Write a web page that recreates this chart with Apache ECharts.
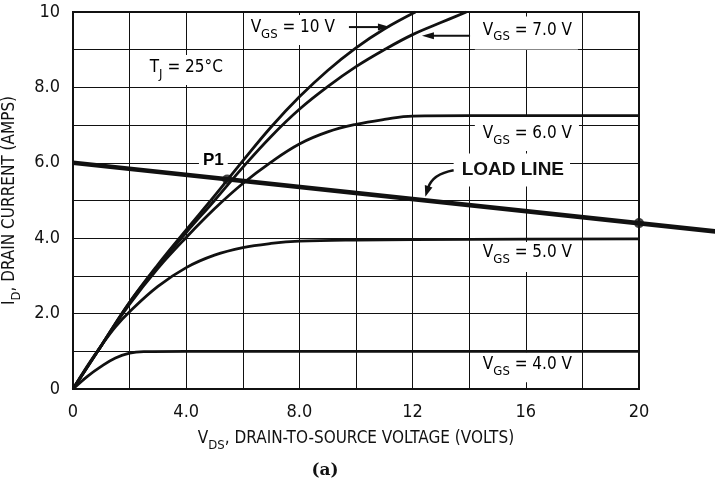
<!DOCTYPE html>
<html>
<head>
<meta charset="utf-8">
<script src="https://cdn.jsdelivr.net/npm/echarts@6/dist/echarts.min.js"></script>
<style>
  html, body { margin: 0; padding: 0; background: #fff; }
  #chart { width: 715px; height: 489px; }
</style>
</head>
<body>
<div id="chart"></div>
<script>
// Output characteristics: drain current (A) against drain-source voltage (V),
// one curve per gate-source voltage.
const vgs10V = [0, 1, 2, 3, 4, 5, 6, 7, 8, 9, 10, 11, 12.1];
const vgs10I = [0, 1.15, 2.3, 3.3, 4.22, 5.12, 6.05, 6.95, 7.75, 8.45, 9.05, 9.55, 10.0];
const vgs7V = [0, 1, 2, 3, 4, 5, 6, 7, 8, 9, 10, 11, 12, 13, 13.9];
const vgs7I = [0, 1.15, 2.3, 3.25, 4.15, 5.0, 5.88, 6.7, 7.42, 8.02, 8.55, 9.0, 9.4, 9.72, 10.0];
const vgs6V = [0, 1, 2, 3, 4, 5, 6, 7, 8, 9, 10, 11, 12, 14, 20];
const vgs6I = [0, 1.15, 2.25, 3.2, 4.02, 4.78, 5.45, 6.02, 6.5, 6.82, 7.02, 7.15, 7.24, 7.25, 7.25];
const vgs5V = [0, 0.5, 1, 1.5, 2, 3, 4, 5, 6, 7, 8, 10, 14, 20];
const vgs5I = [0, 0.6, 1.15, 1.65, 2.05, 2.72, 3.22, 3.55, 3.75, 3.86, 3.92, 3.95, 3.97, 3.98];
const vgs4V = [0, 0.5, 1, 1.5, 2, 2.5, 4, 20];
const vgs4I = [0, 0.33, 0.6, 0.82, 0.95, 0.99, 1.0, 1.0];

// Load line and the two marked operating points on it
const loadV = [0, 22.7];
const loadI = [6.0, 4.18];
const opV = [5.45, 20];
const opI = [5.56, 4.4];

// Labelled ticks
const xTickValues = [0, 4, 8, 12, 16, 20];
const xTickLabels = ['0', '4.0', '8.0', '12', '16', '20'];
const yTickValues = [0, 2, 4, 6, 8, 10];
const yTickLabels = ['0', '2.0', '4.0', '6.0', '8.0', '10'];

const FONT = "'Liberation Sans Narrow', 'DejaVu Sans Condensed', 'Liberation Sans', sans-serif";
const INK = '#111';

const zip = (xs, ys) => xs.map((x, i) => [x, ys[i]]);
const tickLabel = (vals, labels) => v => {
  const k = vals.findIndex(t => Math.abs(t - v) < 1e-9);
  return k >= 0 ? labels[k] : '';
};

const subRich = {
  m: { fontFamily: FONT, fontSize: 17, color: INK, lineHeight: 22, verticalAlign: 'top' },
  s: { fontFamily: FONT, fontSize: 13, color: INK, lineHeight: 13, verticalAlign: 'bottom' }
};

const curve = (name, xs, ys) => ({
  name, type: 'line', data: zip(xs, ys), symbol: 'none',
  smooth: 0.4, z: 3,
  lineStyle: { color: INK, width: 2.8 }
});

const chart = echarts.init(document.getElementById('chart'), null, { renderer: 'canvas' });

// Plot box spans 0–20 V; the load line runs on past the box to the page edge,
// so it sits on a second, hidden grid sharing the same scale.
const plot = { left: 73, top: 12, right: 76, bottom: 100 };
const chartW = 715;
const plotW = chartW - plot.left - plot.right;
const wideMax = 20 * (chartW - plot.left) / plotW;

const option = {
  backgroundColor: '#fff',
  animation: false,
  grid: [
    Object.assign({ show: true, borderColor: INK, borderWidth: 2, backgroundColor: 'transparent', containLabel: false, outerBoundsMode: 'none' }, plot),
    { left: plot.left, top: plot.top, right: 0, bottom: plot.bottom, show: false, containLabel: false, outerBoundsMode: 'none' }
  ],
  xAxis: [{
    type: 'value', min: 0, max: 20, interval: 2,
    axisLine: { show: false }, axisTick: { show: false },
    splitLine: { show: true, lineStyle: { color: INK, width: 1 } },
    axisLabel: { formatter: tickLabel(xTickValues, xTickLabels), fontFamily: FONT, fontSize: 18, color: INK, margin: 14 },
    name: '{m|V}{s|DS}{m|, DRAIN-TO-SOURCE VOLTAGE (VOLTS)}',
    nameLocation: 'middle', nameGap: 41,
    nameTextStyle: { rich: subRich }
  }, {
    type: 'value', gridIndex: 1, min: 0, max: wideMax, show: false
  }],
  yAxis: [{
    type: 'value', min: 0, max: 10, interval: 1,
    axisLine: { show: false }, axisTick: { show: false },
    splitLine: { show: true, lineStyle: { color: INK, width: 1 } },
    axisLabel: { formatter: tickLabel(yTickValues, yTickLabels), fontFamily: FONT, fontSize: 18, color: INK, margin: 13 },
    name: '{m|I}{s|D}{m|, DRAIN CURRENT (AMPS)}',
    nameLocation: 'middle', nameGap: 42,
    nameTextStyle: { rich: subRich }
  }, {
    type: 'value', gridIndex: 1, min: 0, max: 10, show: false
  }],
  series: [
    curve('VGS = 10 V', vgs10V, vgs10I),
    curve('VGS = 7.0 V', vgs7V, vgs7I),
    curve('VGS = 6.0 V', vgs6V, vgs6I),
    curve('VGS = 5.0 V', vgs5V, vgs5I),
    curve('VGS = 4.0 V', vgs4V, vgs4I),
    {
      name: 'Load line', type: 'line', xAxisIndex: 1, yAxisIndex: 1,
      data: zip(loadV, loadI), symbol: 'none', z: 4,
      lineStyle: { color: INK, width: 4.5 }
    },
    {
      name: 'Operating points', type: 'scatter', data: zip(opV, opI),
      symbol: 'circle', symbolSize: 10, clip: false, z: 5,
      itemStyle: { color: INK }
    }
  ]
};
chart.setOption(option);

// Annotations placed in data space, converted to pixels
const px = (v, i) => chart.convertToPixel({ gridIndex: 0 }, [v, i]);

const vgsText = value => '{m|V}{s|GS}{m| = ' + value + '}';
const notes = [
  { at: [6.1, 9.52], text: vgsText('10 V'), pad: [4, 6, 4, 5] },
  { at: [14.2, 9.44], text: vgsText('7.0 V'), pad: [5, 6, 6, 8] },
  { at: [14.2, 6.79], text: vgsText('6.0 V'), pad: [10, 7, 4, 8] },
  { at: [14.2, 3.5], text: vgsText('5.0 V'), pad: [2, 6, 6, 8] },
  { at: [14.2, 0.58], text: vgsText('4.0 V'), pad: [4, 6, 4, 8] },
  { at: [2.5, 8.46], text: '{m|T}{s|J}{m| = 25°C}', pad: [4, 6, 4, 6] },
  { at: [4.45, 6.07], text: '{b|P1}', pad: [2, 4, 2, 4] }
];

const graphics = notes.map(n => {
  const p = px(n.at[0], n.at[1]);
  return {
    type: 'text', x: p[0], y: p[1], z: 1,
    style: {
      text: n.text, rich: Object.assign({}, subRich, {
        b: { fontFamily: "'Liberation Sans', sans-serif", fontSize: 17, fontWeight: 'bold', color: INK, lineHeight: 22 }
      }),
      align: 'left', verticalAlign: 'middle',
      backgroundColor: '#fff', padding: n.pad
    }
  };
});

// LOAD LINE caption
const loadPos = px(13.45, 5.81);
graphics.push({
  type: 'text', x: loadPos[0], y: loadPos[1], z: 1,
  style: {
    text: 'LOAD LINE', fontFamily: "'Liberation Sans', sans-serif", fontSize: 19, fontWeight: 'bold',
    fill: INK, align: 'left', verticalAlign: 'middle',
    backgroundColor: '#fff', padding: [6, 6, 8, 8]
  }
});

// Arrow helpers
function arrowHead(tip, dir, len, half) {
  const n = Math.hypot(dir[0], dir[1]);
  const ux = dir[0] / n, uy = dir[1] / n;
  const bx = tip[0] - ux * len, by = tip[1] - uy * len;
  return {
    type: 'polygon', z: 6,
    shape: { points: [tip, [bx - uy * half, by + ux * half], [bx + uy * half, by - ux * half]] },
    style: { fill: INK }
  };
}
function straightArrow(from, to) {
  const a = px(from[0], from[1]), b = px(to[0], to[1]);
  const len = 12;
  const d = [b[0] - a[0], b[1] - a[1]];
  const n = Math.hypot(d[0], d[1]);
  const end = [b[0] - d[0] / n * (len - 2), b[1] - d[1] / n * (len - 2)];
  return [
    { type: 'line', z: 6, shape: { x1: a[0], y1: a[1], x2: end[0], y2: end[1] }, style: { stroke: INK, lineWidth: 2 } },
    arrowHead(b, d, len, 3.5)
  ];
}
function curvedArrow(from, ctrl, to) {
  const a = px(from[0], from[1]), c = px(ctrl[0], ctrl[1]), b = px(to[0], to[1]);
  const d = [b[0] - c[0], b[1] - c[1]];
  const n = Math.hypot(d[0], d[1]);
  const len = 11;
  const end = [b[0] - d[0] / n * (len - 2), b[1] - d[1] / n * (len - 2)];
  return [
    { type: 'bezierCurve', z: 6, shape: { x1: a[0], y1: a[1], x2: end[0], y2: end[1], cpx1: c[0], cpy1: c[1] }, style: { stroke: INK, lineWidth: 2.5, fill: null } },
    arrowHead(b, d, len, 4)
  ];
}

graphics.push(...straightArrow([9.75, 9.6], [11.2, 9.6]));
graphics.push(...straightArrow([14.03, 9.37], [12.33, 9.37]));
graphics.push(...curvedArrow([13.45, 5.8], [12.7, 5.7], [12.45, 5.1]));

// Figure caption
graphics.push({
  type: 'text', x: 325, y: 471, z: 1,
  style: {
    text: '(a)', fontFamily: "'DejaVu Serif', 'Liberation Serif', serif", fontSize: 17, fontWeight: 'bold',
    fill: INK, align: 'center', verticalAlign: 'middle'
  }
});

chart.setOption({ graphic: graphics });
</script>
</body>
</html>
